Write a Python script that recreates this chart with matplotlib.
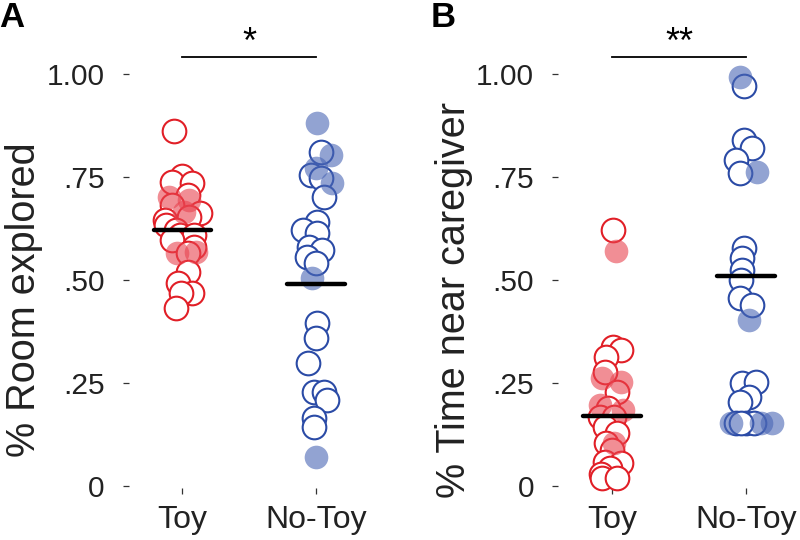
import numpy as np
import matplotlib
matplotlib.use('Agg')
import matplotlib.pyplot as plt

plt.rcParams['font.family'] = ['Liberation Sans', 'DejaVu Sans']

# ---- data ----
groups = ['Toy', 'No-Toy']
yticks = [0, 0.25, 0.50, 0.75, 1.00]
yticklabels = ['0', '.25', '.50', '.75', '1.00']

# panel A: % room explored
a_toy_open = [.862, .752, .738, .735, .706, .682, .663, .653, .646, .633, .621, .609,
              .609, .597, .580, .566, .519, .493, .468, .468, .432]
a_toy_open_dx = [-.06, 0, -.075, .07, .04, -.08, .13, .05, -.13, -.12, -.045, -.02,
                 .09, -.075, .09, .04, .04, -.03, .07, -.01, -.045]
a_toy_fill = [.700, .694, .665, .566, .568]
a_toy_fill_dx = [-.10, .05, .015, -.04, .10]
a_notoy_open = [.811, .755, .748, .700, .641, .621, .614, .580, .573, .556, .541,
                .396, .359, .299, .228, .228, .209, .165, .143]
a_notoy_open_dx = [.04, -.04, .04, .06, .01, -.10, .01, -.05, .045, -.07, 0,
                   .01, 0, -.06, -.015, .06, .08, -.015, -.015]
a_notoy_fill = [.881, .803, .772, .735, .505, .070]
a_notoy_fill_dx = [.01, .11, 0, .12, -.03, 0]
a_means = [0.62, 0.49]

# panel B: % time near caregiver
b_toy_open = [.621, .337, .330, .313, .277, .228, .189, .167, .167, .143, .129, .104,
              .087, .058, .056, .044, .030, .019, .019]
b_toy_open_dx = [.01, .01, .07, -.04, -.05, .04, -.03, -.09, .02, -.05, .04, -.04,
                 0, -.05, .07, -.015, -.08, -.07, .04]
b_toy_fill = [.570, .262, .252, .197, .184, .104]
b_toy_fill_dx = [.03, -.07, .07, -.09, .08, .02]
b_notoy_open = [.971, .840, .820, .791, .760, .578, .553, .524, .500, .456, .439,
                .250, .252, .216, .204, .153, .153, .153, .153]
b_notoy_open_dx = [-.02, -.02, .045, -.075, -.05, -.015, -.03, -.03, -.04, -.05, .045,
                   -.03, .075, .02, -.05, -.075, 0, .06, -.04]
b_notoy_fill = [.993, .762, .403, .153, .153, .153]
b_notoy_fill_dx = [-.05, .08, .02, -.11, .11, .19]
b_means = [0.17, 0.51]

red_edge = '#E11F27'
red_fill = '#E8434F'
blue_edge = '#2B4BA6'
blue_fill = '#4A66B5'
msize = 290

fig = plt.figure(figsize=(8, 5.4), dpi=100)
axA = fig.add_axes([0.161, 0.0963, 0.301, 0.767])
axB = fig.add_axes([0.6975, 0.0963, 0.3025, 0.767])


def panel(ax, toy_o, toy_odx, toy_f, toy_fdx, nt_o, nt_odx, nt_f, nt_fdx, means,
          ylabel, stars, letter, letter_x, lx):
    x1 = 1 + np.array(toy_odx)
    x2 = 2 + np.array(nt_odx)
    ax.scatter(x1, toy_o, s=msize, facecolor='white', edgecolor=red_edge, lw=1.5, clip_on=False, zorder=2)
    ax.scatter(x2, nt_o, s=msize, facecolor='white', edgecolor=blue_edge, lw=1.5, clip_on=False, zorder=2)
    ax.scatter(1 + np.array(toy_fdx), toy_f, s=msize, color=red_fill, alpha=0.6, lw=0, clip_on=False, zorder=3)
    ax.scatter(2 + np.array(nt_fdx), nt_f, s=msize, color=blue_fill, alpha=0.6, lw=0, clip_on=False, zorder=3)
    for i, m in enumerate(means):
        ax.plot([i + 1 - 0.215, i + 1 + 0.215], [m, m], color='black', lw=3.2, zorder=4, solid_capstyle='round')

    ax.set_xlim(0.6, 2.4)
    ax.set_ylim(-0.005, 1.0)
    ax.set_xticks([1, 2])
    ax.set_xticklabels(groups, fontsize=23)
    ax.set_yticks(yticks)
    ax.set_yticklabels(yticklabels, fontsize=21.5)
    ax.tick_params(axis='y', length=4.3, width=0.9, pad=13, colors='#333333', labelcolor='#222222')
    ax.tick_params(axis='x', length=4.3, width=0.9, pad=8, colors='#333333', labelcolor='#222222')
    for sp in ax.spines.values():
        sp.set_visible(False)
    ax.set_ylabel(ylabel, fontsize=28.5, color='#222222')
    ax.yaxis.set_label_coords(lx, 0.454)

    # significance bar
    ax.plot([1, 2], [1.041, 1.041], color='black', lw=1.3, clip_on=False)
    ax.text(1.5, 1.051, stars, ha='center', va='baseline', fontsize=26, color='black')
    fig.text(letter_x, 0.967, letter, fontsize=25, fontweight='bold', ha='left', va='center')


panel(axA, a_toy_open, a_toy_open_dx, a_toy_fill, a_toy_fill_dx,
      a_notoy_open, a_notoy_open_dx, a_notoy_fill, a_notoy_fill_dx,
      a_means, '% Room explored', '*', 'A', -0.001, -0.357)
panel(axB, b_toy_open, b_toy_open_dx, b_toy_fill, b_toy_fill_dx,
      b_notoy_open, b_notoy_open_dx, b_notoy_fill, b_notoy_fill_dx,
      b_means, '% Time near caregiver', '**', 'B', 0.538, -0.35)

fig.savefig('out.png', dpi=100)
